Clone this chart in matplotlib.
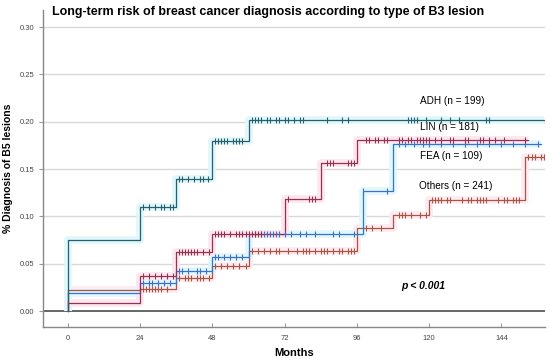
import numpy as np
import matplotlib.pyplot as plt

plt.rcParams['font.family'] = ['Liberation Sans', 'DejaVu Sans']

# step curves: (time of jump, value after jump)
adh_t = [0, 0, 24, 36, 48, 60, 158]
adh_y = [0.0, 0.075, 0.11, 0.14, 0.18, 0.202, 0.202]
lin_t = [0, 0, 24, 36, 48, 72, 84, 96, 153]
lin_y = [0.0, 0.0087, 0.037, 0.062, 0.081, 0.118, 0.157, 0.181, 0.181]
fea_t = [0, 0, 24, 36, 48, 60, 98, 108, 157]
fea_y = [0.0, 0.0188, 0.030, 0.042, 0.057, 0.081, 0.127, 0.177, 0.177]
oth_t = [0, 0, 24, 36, 48, 60, 96, 108, 120, 152, 159]
oth_y = [0.0, 0.0226, 0.023, 0.035, 0.048, 0.063, 0.088, 0.102, 0.117, 0.163, 0.163]

# censored observations (months)
adh_c = [25, 27, 29, 31, 32, 34, 35, 37, 38, 40, 42, 44, 45, 46.5, 49, 50, 51, 52, 53, 55, 56, 57, 58,
         61, 62, 63, 64, 66, 67, 69, 70, 72, 73, 75, 77, 78, 86, 91, 93, 113, 114, 115, 116, 119, 124, 127, 130, 139, 140]
lin_c = [0, 25, 27, 29, 31, 33, 35, 37, 38, 39, 40, 41, 42, 43, 45, 47, 49, 50, 51, 52, 54, 56, 57, 58, 59, 60,
         61, 62, 63, 64, 73, 80, 81, 82, 86, 87, 88, 93, 94, 95, 99, 100, 102, 103, 105, 106, 110, 111, 113, 114,
         116, 117, 118, 119, 120, 122, 124, 127, 128, 132, 133, 137, 138, 140, 142, 145, 152]
fea_c = [25, 27, 28, 30, 32, 34, 37, 38, 40, 43, 44, 46, 49, 50, 52, 54, 56, 58, 62, 64, 65, 66, 67, 68, 69,
         70, 72, 74, 77, 79, 82, 88, 90, 95, 98, 106, 110, 112, 115, 118, 120, 124, 128, 132, 136, 140, 144, 148, 152, 156]
oth_c = [25, 26, 27, 28, 29, 30, 31, 33, 37, 39, 40, 41, 43, 44, 45, 47, 49, 51, 53, 55, 57, 59,
         61, 63, 65, 67, 69, 70, 73, 76, 78, 79, 80, 82, 84, 85, 86, 88, 90, 91, 93, 94, 95, 99, 101, 104,
         110, 111, 112, 114, 117, 119, 121, 122, 123, 124, 126, 127, 131, 133, 134, 136, 137, 138, 139,
         143, 145, 146, 148, 149, 150, 153, 154, 155, 157, 158]

groups = [
    (oth_t, oth_y, oth_c, '#a8563f', '#fdeaf2'),
    (fea_t, fea_y, fea_c, '#3c70cf', '#e0f7fb'),
    (lin_t, lin_y, lin_c, '#903452', '#fde6ef'),
    (adh_t, adh_y, adh_c, '#27606d', '#e0f7fb'),
]

fig = plt.figure(figsize=(5.5, 3.62), dpi=100)
ax = fig.add_axes([0.078, 0.097, 0.913, 0.875])

for yv in [0.05, 0.10, 0.15, 0.20, 0.25, 0.30]:
    ax.axhline(yv, color='#d8d8d8', lw=1, zorder=0)
ax.axhline(0, color='#5a5a5a', lw=1.3, zorder=1)

# shaded halos first so lines sit on top
for t, y, c, col, shade in groups:
    ax.step(t, y, where='post', color=shade, lw=5.5, solid_capstyle='butt', zorder=2)

for t, y, c, col, shade in groups:
    ax.step(t, y, where='post', color=col, lw=0.9, zorder=3)
    cy = [y[np.searchsorted(t, ci, side='right') - 1] for ci in c]
    ax.plot(c, cy, linestyle='none', marker='|', ms=4.5, mew=0.8, color=col, zorder=4)

ax.set_xlim(-8.3, 158.5)
ax.set_ylim(-0.0167, 0.318)
ax.set_xticks([0, 24, 48, 72, 96, 120, 144])
ax.set_yticks([0.00, 0.05, 0.10, 0.15, 0.20, 0.25, 0.30])
ax.set_yticklabels(['0.00', '0.05', '0.10', '0.15', '0.20', '0.25', '0.30'])
ax.tick_params(axis='x', direction='in', length=3, labelsize=5.5, colors='#999999', labelcolor='#444444', pad=6)
ax.tick_params(axis='y', direction='out', length=3, labelsize=5.5, colors='#999999', labelcolor='#444444', pad=3)
for s in ['top', 'right']:
    ax.spines[s].set_visible(False)
for s in ['left', 'bottom']:
    ax.spines[s].set_color('#888888')
    ax.spines[s].set_linewidth(1)

ax.set_xlabel('Months', fontsize=8, fontweight='bold', labelpad=4)
ax.set_ylabel('% Diagnosis of B5 lesions', fontsize=7.5, fontweight='bold', labelpad=5)

fig.text(0.095, 0.966, 'Long-term risk of breast cancer diagnosis according to type of B3 lesion',
         fontsize=9, fontweight='bold', va='center', ha='left')

ax.text(117, 0.222, 'ADH (n = 199)', fontsize=7.2, ha='left', va='center')
ax.text(117, 0.195, 'LIN (n = 181)', fontsize=7.2, ha='left', va='center')
ax.text(117, 0.164, 'FEA (n = 109)', fontsize=7.2, ha='left', va='center')
ax.text(116.5, 0.132, 'Others (n = 241)', fontsize=7.2, ha='left', va='center')
ax.text(118, 0.027, 'p < 0.001', fontsize=7.5, fontweight='bold', style='italic', ha='center', va='center')

fig.savefig('out.png', dpi=100)
